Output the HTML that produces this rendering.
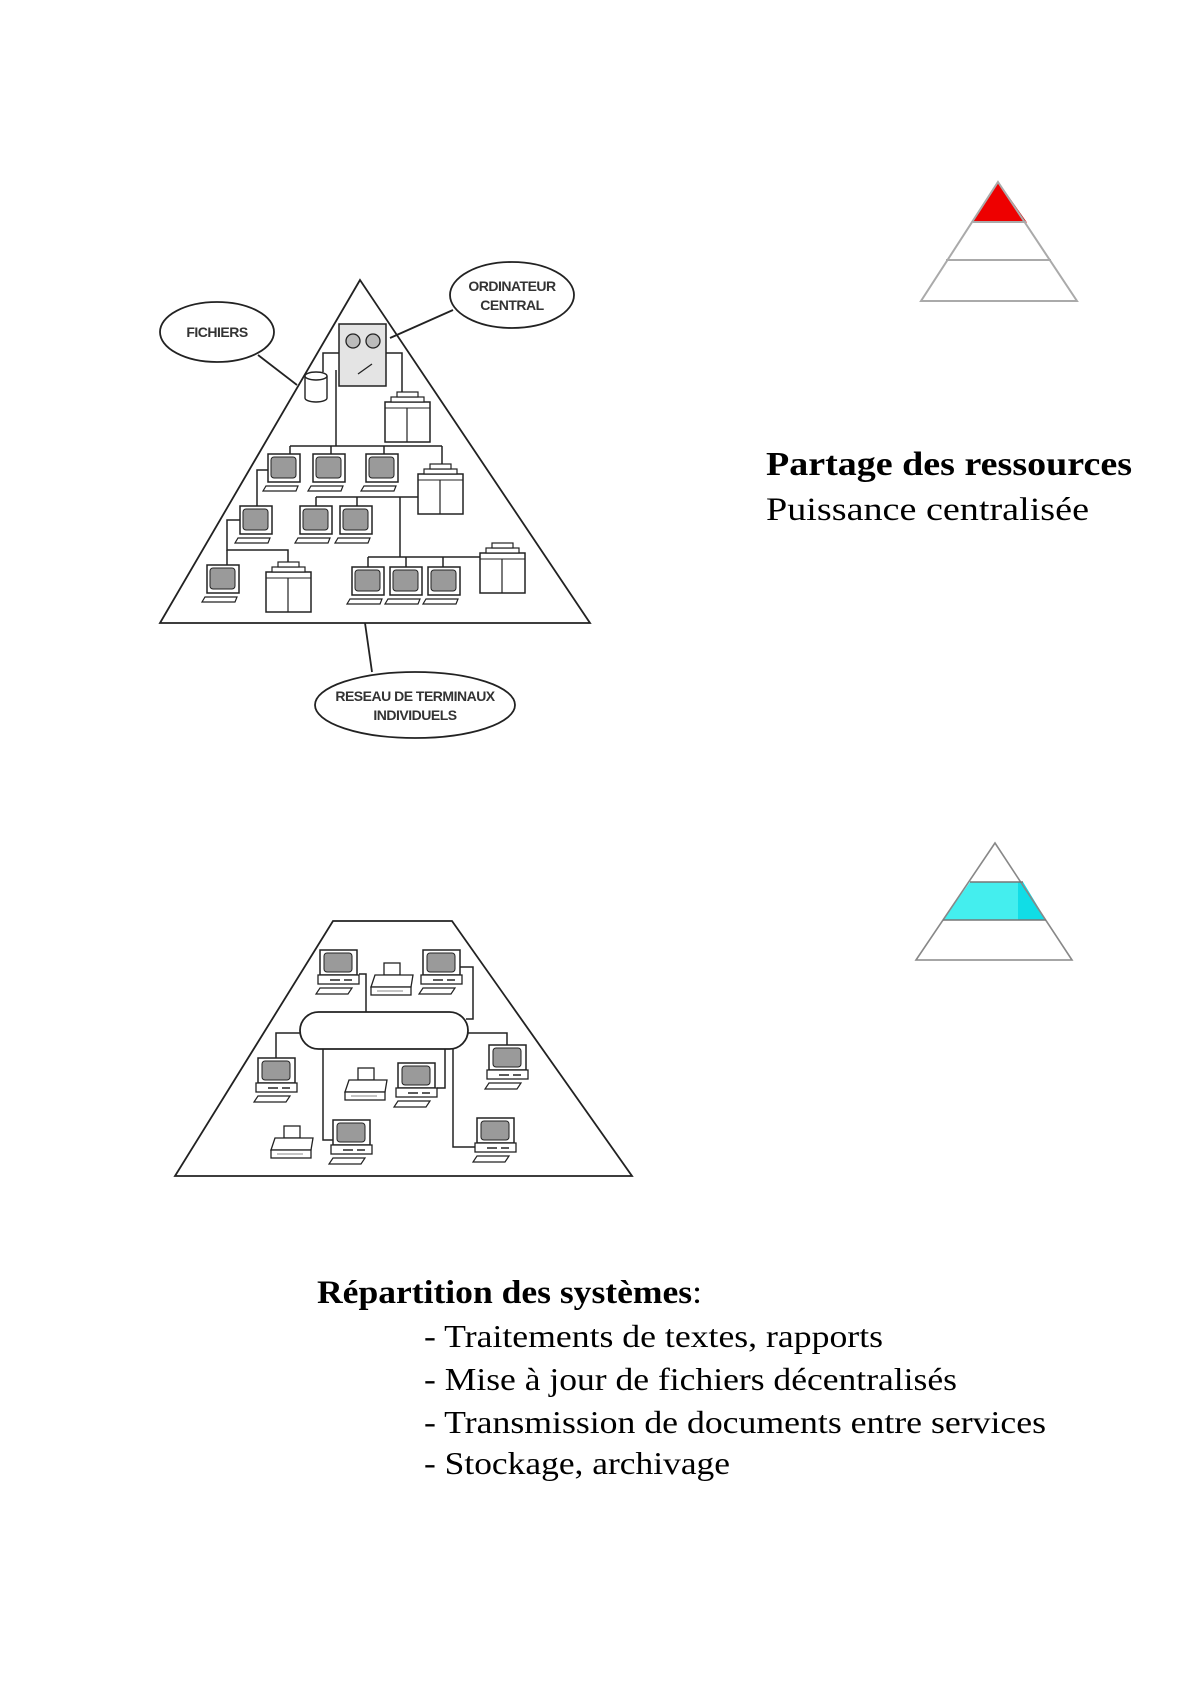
<!DOCTYPE html>
<html><head><meta charset="utf-8"><style>
html,body{margin:0;padding:0;background:#fff;}
svg{display:block}
</style></head><body>
<svg width="1190" height="1684" viewBox="0 0 1190 1684" xmlns="http://www.w3.org/2000/svg">
<defs>
<g id="t1">
 <rect x="0" y="0" width="32" height="28" fill="#fff" stroke="#222" stroke-width="1.5"/>
 <rect x="3" y="3" width="25" height="21" rx="3" fill="#9a9a9a" stroke="#222" stroke-width="1"/>
 <polygon points="-2,32 30,32 28,37 -5,37" fill="#fff" stroke="#222" stroke-width="1.2"/>
</g>
<g id="cab">
 <rect x="0" y="10" width="45" height="40" fill="#fff" stroke="#222" stroke-width="1.5"/>
 <line x1="22" y1="16" x2="22" y2="50" stroke="#222" stroke-width="1.2"/>
 <line x1="0" y1="16" x2="45" y2="16" stroke="#222" stroke-width="1"/>
 <rect x="6" y="5" width="33" height="5" fill="#fff" stroke="#222" stroke-width="1.2"/>
 <rect x="12" y="0" width="21" height="5" fill="#fff" stroke="#222" stroke-width="1.2"/>
</g>
<g id="t2">
 <rect x="0" y="0" width="37" height="25" fill="#fff" stroke="#222" stroke-width="1.5"/>
 <rect x="4" y="3" width="28" height="19" rx="3" fill="#9a9a9a" stroke="#222" stroke-width="1"/>
 <rect x="-2" y="25" width="41" height="9" fill="#fff" stroke="#222" stroke-width="1.3"/>
 <line x1="10" y1="30" x2="20" y2="30" stroke="#222" stroke-width="1.5"/>
 <line x1="24" y1="30" x2="32" y2="30" stroke="#222" stroke-width="1.5"/>
 <polygon points="0,38 32,38 28,44 -4,44" fill="#fff" stroke="#222" stroke-width="1.2"/>
</g>
<g id="pr">
 <rect x="13" y="0" width="16" height="12" fill="#fff" stroke="#222" stroke-width="1.3"/>
 <polygon points="4,12 42,12 40,24 0,24" fill="#fff" stroke="#222" stroke-width="1.3"/>
 <rect x="0" y="24" width="40" height="8" fill="#fff" stroke="#222" stroke-width="1.3"/>
 <line x1="6" y1="28" x2="32" y2="28" stroke="#888" stroke-width="1"/>
</g>
</defs>

<g stroke="#222" stroke-width="1.8" fill="none">
 <polygon points="360,280 590,623 160,623" fill="#fff"/>
 <line x1="258" y1="355" x2="297" y2="385"/>
 <line x1="453" y1="310" x2="390" y2="338"/>
 <line x1="365" y1="623" x2="372" y2="672"/>
 <ellipse cx="217" cy="332" rx="57" ry="30" fill="#fff"/>
 <ellipse cx="512" cy="295" rx="62" ry="33" fill="#fff"/>
 <ellipse cx="415" cy="705" rx="100" ry="33" fill="#fff"/>
</g>
<g stroke="#222" stroke-width="1.5" fill="none">
 <polyline points="339,353 323,353 323,372"/>
 <polyline points="386,353 402,353 402,393"/>
 <line x1="336" y1="370" x2="336" y2="446"/>
 <line x1="290" y1="446" x2="442" y2="446"/>
 <line x1="290" y1="446" x2="290" y2="454"/>
 <line x1="331" y1="446" x2="331" y2="454"/>
 <line x1="384" y1="446" x2="384" y2="454"/>
 <line x1="442" y1="446" x2="442" y2="467"/>
 <polyline points="268,470 257,470 257,520 240,520"/>
 <polyline points="240,520 227,520 227,550 288,550 288,562"/>
 <line x1="316" y1="497" x2="418" y2="497"/>
 <line x1="316" y1="497" x2="316" y2="506"/>
 <line x1="357" y1="497" x2="357" y2="506"/>
 <line x1="400" y1="497" x2="400" y2="557"/>
 <line x1="227" y1="550" x2="227" y2="565"/>
 <line x1="368" y1="557" x2="480" y2="557"/>
 <line x1="368" y1="557" x2="368" y2="567"/>
 <line x1="406" y1="557" x2="406" y2="567"/>
 <line x1="443" y1="557" x2="443" y2="567"/>
</g>
<rect x="339" y="324" width="47" height="62" fill="#e4e4e4" stroke="#222" stroke-width="1.5"/>
<circle cx="353" cy="341" r="7" fill="#bbb" stroke="#222" stroke-width="1.3"/>
<circle cx="373" cy="341" r="7" fill="#bbb" stroke="#222" stroke-width="1.3"/>
<line x1="358" y1="374" x2="372" y2="364" stroke="#222" stroke-width="1.3"/>
<path d="M305,376 L305,398 A11,4 0 0 0 327,398 L327,376" fill="#fff" stroke="#222" stroke-width="1.4"/>
<ellipse cx="316" cy="376" rx="11" ry="4" fill="#fff" stroke="#222" stroke-width="1.4"/>
<use href="#cab" x="385" y="392"/>
<use href="#cab" x="418" y="464"/>
<use href="#cab" x="266" y="562"/>
<use href="#cab" x="480" y="543"/>
<use href="#t1" x="268" y="454"/>
<use href="#t1" x="313" y="454"/>
<use href="#t1" x="366" y="454"/>
<use href="#t1" x="240" y="506"/>
<use href="#t1" x="300" y="506"/>
<use href="#t1" x="340" y="506"/>
<use href="#t1" x="207" y="565"/>
<use href="#t1" x="352" y="567"/>
<use href="#t1" x="390" y="567"/>
<use href="#t1" x="428" y="567"/>
<g font-family="Liberation Sans, sans-serif" font-size="14" font-weight="bold" fill="#333" text-anchor="middle" letter-spacing="-0.5">
 <text x="217" y="337">FICHIERS</text>
 <text x="512" y="291">ORDINATEUR</text>
 <text x="512" y="310">CENTRAL</text>
 <text x="415" y="701">RESEAU DE TERMINAUX</text>
 <text x="415" y="720">INDIVIDUELS</text>
</g>

<polygon points="998,182 1026,222 973,222" fill="#ee0000" stroke="#c00" stroke-width="1"/>
<polygon points="998,182 1077,301 921,301" fill="none" stroke="#aaa" stroke-width="2"/>
<line x1="973" y1="222" x2="1026" y2="222" stroke="#aaa" stroke-width="2"/>
<line x1="946" y1="260" x2="1051" y2="260" stroke="#aaa" stroke-width="2"/>
<g font-family="Liberation Serif, serif" fill="#000">
 <text x="766" y="475" font-size="34" font-weight="bold" textLength="366" lengthAdjust="spacingAndGlyphs">Partage des ressources</text>
 <text x="766" y="520" font-size="33" textLength="323" lengthAdjust="spacingAndGlyphs">Puissance centralisée</text>
</g>

<polygon points="333,921 452,921 632,1176 175,1176" fill="#fff" stroke="#222" stroke-width="1.8"/>
<g stroke="#222" stroke-width="1.5" fill="none">
 <polyline points="359,974 366,974 366,1012"/>
 <polyline points="460,967 473,967 473,1019 466,1019"/>
 <polyline points="300,1033 276,1033 276,1058"/>
 <polyline points="468,1033 507,1033 507,1045"/>
 <polyline points="323,1049 323,1140 333,1140"/>
 <polyline points="445,1049 445,1088 437,1088"/>
 <polyline points="453,1049 453,1147 477,1147"/>
</g>
<rect x="300" y="1012" width="168" height="37" rx="18.5" fill="#fff" stroke="#222" stroke-width="1.8"/>
<use href="#t2" x="320" y="950"/>
<use href="#t2" x="423" y="950"/>
<use href="#pr" x="371" y="963"/>
<use href="#t2" x="258" y="1058"/>
<use href="#t2" x="489" y="1045"/>
<use href="#t2" x="398" y="1063"/>
<use href="#pr" x="345" y="1068"/>
<use href="#t2" x="333" y="1120"/>
<use href="#pr" x="271" y="1126"/>
<use href="#t2" x="477" y="1118"/>

<polygon points="970,882 1023,882 1046,920 943,920" fill="#44eeee"/>
<polygon points="1018,882 1023,882 1046,920 1018,920" fill="#11dde6"/>
<polygon points="995,843 1072,960 916,960" fill="none" stroke="#888" stroke-width="1.6"/>
<line x1="970" y1="882" x2="1023" y2="882" stroke="#777" stroke-width="1.6"/>
<line x1="943" y1="920" x2="1046" y2="920" stroke="#777" stroke-width="1.6"/>

<g font-family="Liberation Serif, serif" fill="#000">
 <text x="317" y="1303" font-size="33" textLength="385" lengthAdjust="spacingAndGlyphs"><tspan font-weight="bold">Répartition des systèmes</tspan>:</text>
 <text x="424" y="1347" font-size="32" textLength="459" lengthAdjust="spacingAndGlyphs">- Traitements de textes, rapports</text>
 <text x="424" y="1390" font-size="32" textLength="533" lengthAdjust="spacingAndGlyphs">- Mise à jour de fichiers décentralisés</text>
 <text x="424" y="1433" font-size="32" textLength="622" lengthAdjust="spacingAndGlyphs">- Transmission de documents entre services</text>
 <text x="424" y="1474" font-size="32" textLength="306" lengthAdjust="spacingAndGlyphs">- Stockage, archivage</text>
</g>
</svg>
</body></html>
